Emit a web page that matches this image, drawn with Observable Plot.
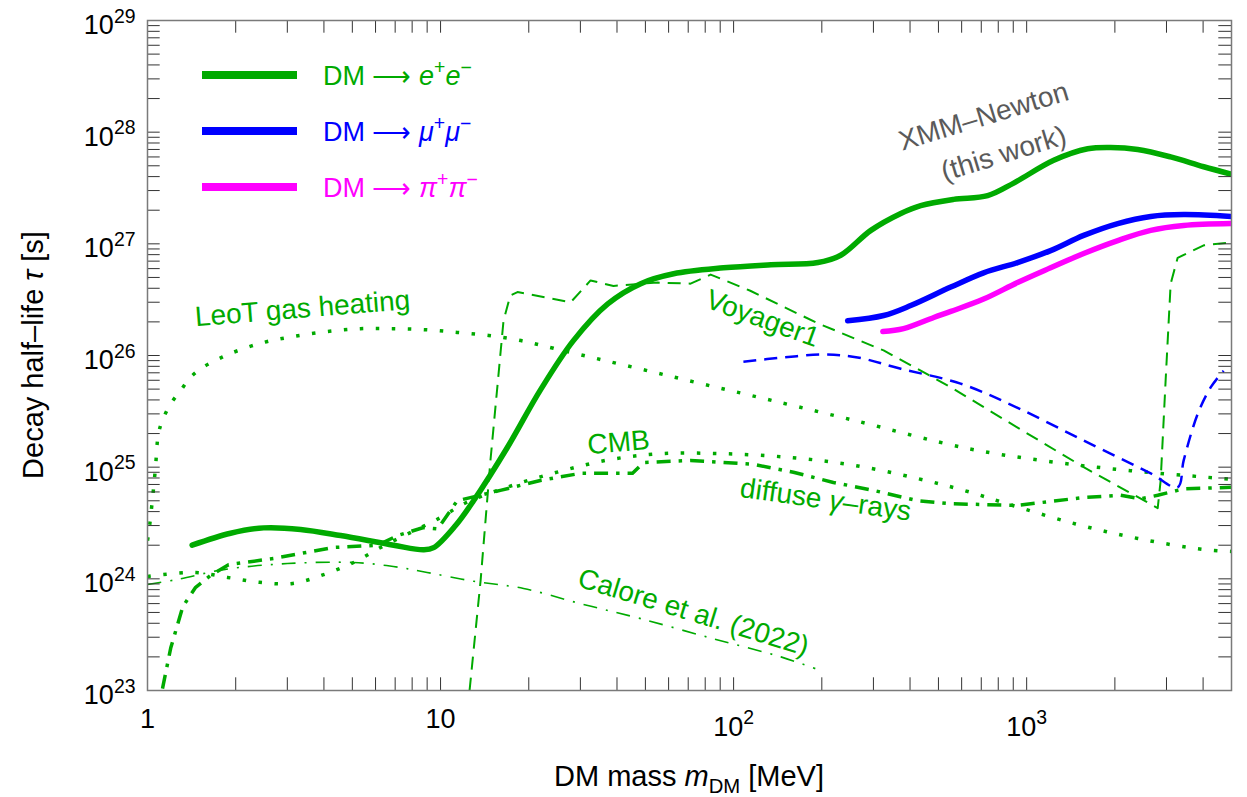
<!DOCTYPE html>
<html><head><meta charset="utf-8">
<script src="https://cdn.jsdelivr.net/npm/d3@7"></script>
<script src="https://cdn.jsdelivr.net/npm/@observablehq/plot@0.6"></script>
<style>body{margin:0;background:#fff;font-family:"Liberation Sans",Arial,sans-serif}</style>
</head><body><div id="chart"></div>
<script>
const GREEN = "#00aa00", BLUE = "#0000ff", MAGENTA = "#ff00ff", GRAY = "#5a5a5a";

// XMM-Newton limits (this work)
const eeMass = [1.42, 1.92, 2.49, 3.33, 4.56, 6.92, 8.75, 9.47, 11.25, 12.96, 16.9, 21.9, 28.4, 37.2, 48.2, 62.4, 92.4, 134, 194, 232, 294, 372, 435, 563, 736, 903, 1237, 1615, 1935, 2393, 3100, 4020, 5000];
const eeTau  = [2.0e24, 2.56e24, 2.86e24, 2.77e24, 2.44e24, 2.0e24, 1.82e24, 1.9e24, 3.0e24, 5.0e24, 1.5e25, 4.9e25, 1.36e26, 2.9e26, 4.4e26, 5.4e26, 6.1e26, 6.5e26, 6.8e26, 7.9e26, 1.32e27, 1.87e27, 2.2e27, 2.5e27, 2.7e27, 3.5e27, 5.6e27, 7.1e27, 7.3e27, 7.0e27, 6.0e27, 4.9e27, 4.2e27];
const muMass = [245, 325, 402, 551, 713, 931, 1207, 1565, 2046, 2650, 3434, 5000];
const muTau  = [2.05e26, 2.28e26, 2.8e26, 4.1e26, 5.5e26, 6.8e26, 8.7e26, 1.19e27, 1.52e27, 1.76e27, 1.83e27, 1.76e27];
const piMass = [323, 380, 482, 551, 713, 931, 1207, 1565, 2046, 2650, 3434, 5000];
const piTau  = [1.64e26, 1.74e26, 2.19e26, 2.48e26, 3.2e26, 4.5e26, 6.1e26, 8.2e26, 1.07e27, 1.32e27, 1.46e27, 1.52e27];

// Voyager 1 (e+e- and mu+mu-)
const vgMass = [12.56, 13.7, 14.8, 15.7, 16.4, 17.3, 18.3, 27.8, 32.5, 38.9, 55, 71.3, 83.5, 114, 194, 325, 551, 931, 1565, 2800, 2866, 2980, 3100, 3275, 4020, 5000];
const vgTau  = [1e23, 9.7e23, 1.15e25, 6.0e25, 2.05e26, 3.45e26, 3.7e26, 3.0e26, 4.7e26, 4.2e26, 4.5e26, 4.4e26, 5.3e26, 3.8e26, 1.94e26, 1.11e26, 5.2e25, 2.26e25, 1.0e25, 4.3e24, 7.6e24, 6.0e25, 4.4e26, 7.5e26, 9.7e26, 1.03e27];
const vmMass = [108, 148, 203, 265, 372, 595, 931, 1565, 2650, 3275, 3434, 3835, 4250, 4700];
const vmTau  = [8.8e25, 9.6e25, 1.02e26, 9.6e25, 7.6e25, 5.6e25, 3.4e25, 1.73e25, 8.8e24, 6.6e24, 1.15e25, 3.0e25, 5.2e25, 7.3e25];

// LeoT gas heating
const ltMass = [1.0, 1.01, 1.04, 1.065, 1.09, 1.13, 1.20, 1.30, 1.40, 1.54, 1.73, 1.95, 2.49, 3.15, 4.11, 5.33, 6.86, 8.89, 11.4, 14.6, 18.8, 24.3, 35.2, 52.1, 75.3, 114, 251, 629, 1207, 2264, 5000];
const ltTau  = [2.2e24, 2.6e24, 5.2e24, 1.0e25, 2.0e25, 2.7e25, 3.7e25, 4.9e25, 6.35e25, 7.8e25, 9.2e25, 1.06e26, 1.31e26, 1.48e26, 1.64e26, 1.74e26, 1.74e26, 1.7e26, 1.61e26, 1.51e26, 1.36e26, 1.16e26, 9.2e25, 7.2e25, 5.7e25, 4.4e25, 2.67e25, 1.47e25, 1.12e25, 9.3e24, 7.8e24];

// CMB
const cmbMass = [1.0, 1.125, 1.46, 1.875, 2.41, 3.13, 3.99, 5.05, 6.34, 8.02, 10, 12.2, 17.7, 26.1, 38.0, 56.3, 92.4, 157, 257, 425, 610, 882, 1469, 2393, 4020, 5000];
const cmbTau  = [1.05e24, 1.09e24, 1.14e24, 1.03e24, 9.3e23, 9.1e23, 1.09e24, 1.4e24, 1.95e24, 2.65e24, 3.54e24, 4.8e24, 6.9e24, 9.3e24, 1.17e25, 1.32e25, 1.32e25, 1.22e25, 1.04e25, 7.9e24, 6.2e24, 4.6e24, 3.1e24, 2.3e24, 1.83e24, 1.76e24];

// diffuse gamma-rays
const dfMass = [1.125, 1.20, 1.32, 1.46, 1.64, 1.89, 2.69, 4.31, 6.1, 7.13, 8.75, 9.77, 11.4, 16.0, 21.9, 30.0, 45.2, 49.3, 71.3, 117, 160, 219, 300, 425, 551, 931, 1565, 2094, 2450, 2800, 3434, 5000];
const dfTau  = [1.04e23, 2.4e23, 5.65e23, 8.4e23, 1.07e24, 1.34e24, 1.52e24, 1.91e24, 2.0e24, 2.44e24, 2.88e24, 2.8e24, 5.0e24, 6.2e24, 7.6e24, 8.8e24, 8.8e24, 1.1e25, 1.15e25, 1.06e25, 9.0e24, 7.3e24, 6.2e24, 5.0e24, 4.7e24, 4.55e24, 5.35e24, 5.6e24, 5.2e24, 5.6e24, 6.4e24, 6.6e24];

// Calore et al. (2022)
const clMass = [1.0, 1.27, 1.82, 3.0, 5.05, 6.9, 9.0, 13.0, 19.2, 30.0, 48.2, 85.5, 145, 190];
const clTau  = [8.9e23, 9.9e23, 1.21e24, 1.37e24, 1.4e24, 1.29e24, 1.14e24, 9.5e23, 8.2e23, 6.0e23, 4.4e23, 2.9e23, 2.0e23, 1.57e23];

// axis ticks
const xMinorTicks = [1,2,3,4,5,6,7,8,9,10,20,30,40,50,60,70,80,90,100,200,300,400,500,600,700,800,900,1000,2000,3000,4000,5000];
const yMinorTicks = [];
for (let e = 23; e < 29; e++) for (let k = 1; k < 10; k++) yMinorTicks.push(k * Math.pow(10, e));
yMinorTicks.push(1e29);
const xTickValues = [1, 10, 100, 1000];
const xTickLabels = ["1", "10", "10^{2}", "10^{3}"];
const yTickValues = [1e23, 1e24, 1e25, 1e26, 1e27, 1e28, 1e29];
const yTickLabels = ["10^{23}", "10^{24}", "10^{25}", "10^{26}", "10^{27}", "10^{28}", "10^{29}"];

// curve annotations
const greenLabels = [
  {text: "LeoT gas heating", m: 3.38, tau: 2.63e26, angle: -4.6},
  {text: "Voyager1", m: 125.6, tau: 2.14e26, angle: 20},
  {text: "CMB", m: 40.5, tau: 1.66e25, angle: -5},
  {text: "diffuse *γ*–rays", m: 206, tau: 5.1e24, angle: 8},
  {text: "Calore et al. (2022)", m: 73, tau: 5.0e23, angle: 17}
];
const grayLabels = [
  {text: "XMM–Newton", m: 713, tau: 1.38e28, angle: -17},
  {text: "(this work)", m: 835, tau: 6.4e27, angle: -17}
];
const legendItems = [
  {label: "DM ⟶ *e*^{+}*e*^{−}", color: GREEN},
  {label: "DM ⟶ *μ*^{+}*μ*^{−}", color: BLUE},
  {label: "DM ⟶ *π*^{+}*π*^{−}", color: MAGENTA}
];

const series = (ms, ts) => ms.map((m, i) => ({m, tau: ts[i]}));
const W = 1247, H = 797, mL = 147, mR = 16, mT = 20, mB = 107;
const innerW = W - mL - mR, innerH = H - mT - mB;
const TL = 12.7;

const xLab = xTickValues.map((v, i) => ({v, label: xTickLabels[i]}));
const yLab = yTickValues.map((v, i) => ({v, label: yTickLabels[i]}));

const lineOpts = (stroke, strokeWidth, dash, curve) => ({
  x: "m", y: "tau", stroke, strokeWidth, strokeDasharray: dash,
  strokeLinecap: dash ? "butt" : "round", curve: curve || "catmull-rom", clip: true
});

const plot = Plot.plot({
  width: W, height: H,
  marginLeft: mL, marginRight: mR, marginTop: mT, marginBottom: mB,
  x: {type: "log", domain: [1, 5000], axis: null},
  y: {type: "log", domain: [1e23, 1e29], axis: null},
  style: {fontFamily: '"Liberation Sans", Arial, sans-serif', background: "white", color: "black"},
  marks: [
    Plot.line(series(clMass, clTau), lineOpts(GREEN, 1.6, "14 9 2 9")),
    Plot.line(series(ltMass, ltTau), lineOpts(GREEN, 3.5, "3.5 12.5")),
    Plot.line(series(cmbMass, cmbTau), lineOpts(GREEN, 3.5, "3.5 12.5")),
    Plot.line(series(dfMass, dfTau), lineOpts(GREEN, 3.5, "14 8 3.5 8", "linear")),
    Plot.line(series(vgMass, vgTau), lineOpts(GREEN, 2, "13 8", "linear")),
    Plot.line(series(vmMass, vmTau), lineOpts(BLUE, 2.5, "13 8")),
    Plot.line(series(piMass, piTau), lineOpts(MAGENTA, 5.5)),
    Plot.line(series(muMass, muTau), lineOpts(BLUE, 5.5)),
    Plot.line(series(eeMass, eeTau), lineOpts(GREEN, 5.5)),
    Plot.text(greenLabels, {x: "m", y: "tau", text: "text", rotate: "angle", fill: GREEN, fontSize: 28}),
    Plot.text(grayLabels, {x: "m", y: "tau", text: "text", rotate: "angle", fill: GRAY, fontSize: 28}),
    Plot.tickX(xMinorTicks, {x: d => d, insetTop: innerH - TL, stroke: "#333"}),
    Plot.tickX(xMinorTicks, {x: d => d, insetBottom: innerH - TL, stroke: "#333"}),
    Plot.tickY(yMinorTicks, {y: d => d, insetRight: innerW - TL, stroke: "#333"}),
    Plot.tickY(yMinorTicks, {y: d => d, insetLeft: innerW - TL, stroke: "#333"}),
    Plot.frame({stroke: "#7a7a7a", strokeWidth: 1.5}),
    Plot.text(xLab.filter(d => !d.label.includes("^")), {x: "v", text: "label", frameAnchor: "bottom", textAnchor: "middle", lineAnchor: "bottom", dy: 37, fontSize: 27, fill: "black"}),
    Plot.text(xLab.filter(d => d.label.includes("^")), {x: "v", text: "label", frameAnchor: "bottom", textAnchor: "middle", lineAnchor: "bottom", dy: 45, fontSize: 27, fill: "black"}),
    Plot.text(yLab, {y: "v", text: "label", frameAnchor: "left", textAnchor: "end", lineAnchor: "bottom", dx: -12, dy: 13.5, fontSize: 27, fill: "black"})
  ]
});
document.getElementById("chart").appendChild(plot);

const SVGNS = "http://www.w3.org/2000/svg";
function rich(el, size) {
  const s = el.textContent;
  const re = /\^\{([^}]*)\}|_\{([^}]*)\}|\*([^*]*)\*/g;
  el.textContent = "";
  let cur = 0, last = 0, m;
  const add = (txt, o) => {
    if (!txt) return;
    const t = document.createElementNS(SVGNS, "tspan");
    const target = o.shift || 0;
    if (target !== cur) t.setAttribute("dy", target - cur);
    cur = target;
    if (o.size) t.setAttribute("font-size", o.size);
    if (o.italic) t.setAttribute("font-style", "italic");
    t.textContent = txt;
    el.appendChild(t);
  };
  while ((m = re.exec(s))) {
    add(s.slice(last, m.index), {});
    if (m[1] !== undefined) add(m[1], {shift: -0.42 * size, size: 0.72 * size});
    else if (m[2] !== undefined) add(m[2], {shift: 0.25 * size, size: 0.7 * size});
    else add(m[3], {italic: true});
    last = re.lastIndex;
  }
  add(s.slice(last), {});
}
const svg = d3.select(plot);
const markup = /\^\{|_\{|\*[^*]+\*/;
svg.selectAll("text").each(function () {
  if (!markup.test(this.textContent)) return;
  const fs = parseFloat(getComputedStyle(this).fontSize) || 26;
  rich(this, fs);
});

// legend
const lg = svg.append("g").attr("aria-label", "legend");
legendItems.forEach((d, i) => {
  const y = 75 + i * 56;
  lg.append("line").attr("x1", 202).attr("x2", 297).attr("y1", y).attr("y2", y)
    .attr("stroke", d.color).attr("stroke-width", 8);
  const t = lg.append("text").attr("x", 323).attr("y", y + 10).attr("fill", d.color)
    .attr("text-anchor", "start").attr("font-size", 27).text(d.label);
  rich(t.node(), 27);
});

// axis titles
const yt = svg.append("text").attr("transform", `translate(43,${mT + innerH / 2}) rotate(-90)`)
  .attr("text-anchor", "middle").attr("font-size", 29).attr("fill", "black").text("Decay half–life *τ* [s]");
rich(yt.node(), 29);
const xt = svg.append("text").attr("x", mL + innerW / 2).attr("y", 786)
  .attr("text-anchor", "middle").attr("font-size", 29).attr("fill", "black").text("DM mass *m*_{DM} [MeV]");
rich(xt.node(), 29);
</script>
</body></html>
